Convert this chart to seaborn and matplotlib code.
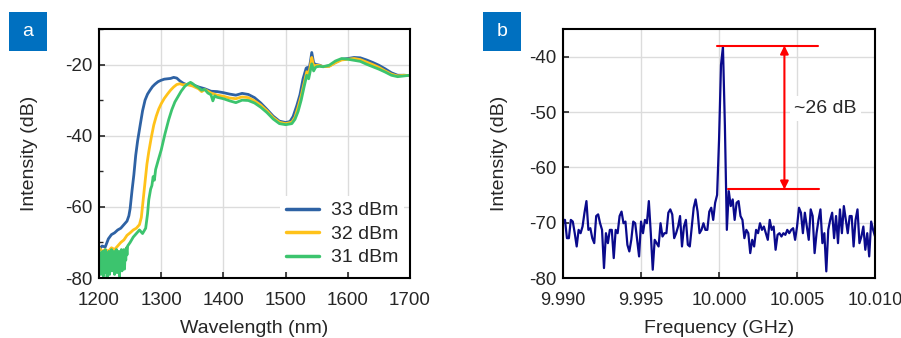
import numpy as np
import pandas as pd
import matplotlib
matplotlib.use("Agg")
import matplotlib.pyplot as plt
from matplotlib.patches import Rectangle
from matplotlib.ticker import MultipleLocator, FormatStrFormatter
import seaborn as sns

# ---- panel a: spectra at three pump powers ----
wl_33 = [1200, 1205, 1210, 1215, 1220, 1225, 1230, 1235, 1240, 1245, 1248, 1250, 1253, 1256, 1259,
         1262, 1266, 1270, 1274, 1278, 1282, 1286, 1290, 1295, 1300, 1305, 1310, 1315, 1320, 1325,
         1330, 1335, 1340, 1350, 1360, 1370, 1380, 1390, 1400, 1410, 1420, 1430, 1440, 1450, 1460,
         1470, 1480, 1490, 1500, 1507, 1512, 1518, 1523, 1528, 1533, 1535, 1537, 1540, 1542, 1545,
         1548, 1550, 1555, 1560, 1570, 1580, 1590, 1600, 1610, 1620, 1630, 1640, 1650, 1660, 1670,
         1680, 1690, 1700]
int_33 = [-72.0, -71.0, -71.3, -69.0, -67.8, -67.3, -66.5, -66.0, -65.0, -64.0, -62.5, -60.5, -55.5,
          -51.0, -45.5, -41.5, -37.2, -33.0, -30.0, -28.3, -27.2, -26.2, -25.5, -24.8, -24.4, -24.1,
          -24.0, -23.9, -23.6, -23.8, -24.6, -25.2, -25.6, -25.6, -26.3, -26.8, -27.5, -27.6, -27.9,
          -28.3, -28.6, -28.1, -28.4, -29.3, -30.8, -32.6, -34.5, -35.9, -36.3, -36.0, -34.6, -31.5,
          -28.5, -24.0, -21.0, -20.8, -22.0, -19.0, -16.6, -19.5, -20.0, -20.0, -20.2, -20.6, -20.4,
          -19.4, -18.5, -18.3, -18.0, -18.1, -18.7, -19.4, -20.2, -21.2, -22.3, -23.0, -23.0, -23.1]

wl_32 = [1200, 1205, 1210, 1215, 1220, 1225, 1230, 1235, 1240, 1245, 1250, 1255, 1260, 1265, 1268,
         1271, 1274, 1277, 1280, 1284, 1288, 1292, 1296, 1300, 1305, 1310, 1315, 1320, 1325, 1330,
         1335, 1340, 1345, 1350, 1355, 1360, 1365, 1370, 1380, 1390, 1400, 1410, 1420, 1430, 1440,
         1450, 1460, 1470, 1480, 1490, 1500, 1510, 1515, 1520, 1525, 1530, 1534, 1537, 1540, 1542,
         1545, 1548, 1550, 1555, 1560, 1570, 1580, 1590, 1600, 1610, 1620, 1630, 1640, 1650, 1660,
         1670, 1680, 1690, 1700]
int_32 = [-71.5, -72.5, -72.0, -72.5, -71.5, -72.0, -71.0, -70.0, -69.3, -68.0, -67.3, -66.5, -66.0,
          -65.0, -63.0, -58.0, -53.0, -48.0, -44.5, -40.5, -37.0, -34.5, -32.5, -31.0, -29.5, -28.3,
          -27.2, -26.3, -25.6, -25.4, -25.7, -25.6, -25.8, -26.0, -26.4, -26.8, -27.6, -27.0, -28.0,
          -28.6, -28.9, -29.4, -29.6, -29.1, -29.3, -30.2, -31.4, -33.0, -34.9, -36.2, -36.6, -36.2,
          -34.8, -32.0, -28.8, -25.0, -22.0, -23.0, -20.0, -18.0, -20.5, -20.3, -20.2, -20.3, -20.6,
          -20.5, -19.5, -18.7, -18.5, -18.3, -18.6, -19.3, -20.0, -20.8, -21.8, -22.7, -23.2, -23.0,
          -23.1]

wl_31 = [1200, 1201, 1202, 1203, 1204, 1205, 1206, 1207, 1208, 1209, 1210, 1211, 1212, 1213, 1214,
         1215, 1216, 1217, 1218, 1219, 1220, 1221, 1222, 1223, 1224, 1225, 1226, 1227, 1228, 1229,
         1230, 1231, 1232, 1233, 1234, 1235, 1236, 1237, 1238, 1239, 1240, 1241, 1242, 1243, 1244,
         1245, 1246, 1250, 1255, 1260, 1265, 1270, 1275, 1278, 1280, 1283, 1285, 1287, 1289, 1291,
         1295, 1300, 1306, 1312, 1317, 1322, 1327, 1332, 1338, 1343, 1347, 1350, 1355, 1360, 1365,
         1370, 1375, 1380, 1383, 1386, 1390, 1400, 1410, 1420, 1430, 1440, 1450, 1460, 1470, 1480,
         1490, 1500, 1510, 1515, 1520, 1525, 1530, 1534, 1537, 1540, 1542, 1545, 1548, 1550, 1555,
         1560, 1570, 1580, 1590, 1600, 1610, 1620, 1630, 1640, 1650, 1660, 1670, 1680, 1690, 1700]
int_31 = [-72.0, -78.0, -73.0, -79.0, -74.0, -76.0, -72.5, -79.5, -73.0, -77.0, -72.0, -78.5, -74.0,
          -80.0, -73.0, -76.5, -72.5, -79.0, -74.5, -77.5, -72.0, -78.0, -73.5, -76.0, -72.5, -79.0,
          -73.0, -77.5, -72.0, -78.5, -73.0, -76.5, -72.5, -79.5, -73.5, -77.0, -72.0, -78.0, -73.0,
          -76.0, -72.0, -77.5, -72.5, -75.0, -71.5, -73.5, -71.0, -70.0, -68.5, -67.5, -66.5, -67.5,
          -66.0, -62.0, -58.0, -55.0, -54.0, -51.5, -52.5, -49.5, -47.0, -44.0, -39.5, -35.5, -32.7,
          -30.5, -29.0, -27.5, -26.1, -25.4, -25.0, -25.3, -26.0, -26.5, -27.2, -27.0, -28.0, -28.5,
          -30.2, -28.8, -29.2, -29.6, -30.2, -30.7, -30.0, -30.1, -30.8, -32.0, -33.5, -35.3, -36.6,
          -36.9, -36.6, -35.4, -33.2, -30.0, -26.0, -23.0, -24.0, -21.5, -19.8, -21.8, -20.8, -20.6,
          -20.5, -20.6, -20.2, -19.0, -18.3, -18.5, -18.8, -19.1, -19.9, -20.6, -21.3, -22.1, -23.0,
          -23.4, -23.2, -23.0]

power_labels = ["33 dBm", "32 dBm", "31 dBm"]
power_colors = ["#2E62A4", "#FFC21A", "#3CC46E"]

# ---- panel b: RF spectrum around 10 GHz ----
f_start, f_stop = 9.990, 10.010
rf_db = [-69.5, -69.5, -72.8, -72.8, -69.5, -69.8, -71.9, -74.3, -71.3, -71.9,
         -70.7, -68.2, -66.1, -71.3, -71.0, -72.8, -73.7, -68.8, -68.5, -70.1,
         -71.3, -78.2, -71.9, -73.7, -71.3, -71.3, -76.4, -71.3, -71.9, -68.8,
         -68.0, -70.1, -69.8, -74.0, -75.2, -73.1, -69.8, -70.1, -73.1, -76.1,
         -69.8, -71.9, -69.5, -70.1, -66.1, -71.9, -78.5, -73.1, -73.7, -74.3,
         -70.1, -72.5, -71.9, -71.9, -68.2, -67.6, -68.5, -72.8, -71.9, -70.7,
         -68.8, -74.3, -70.7, -69.5, -74.0, -74.3, -70.7, -67.3, -65.8, -68.0,
         -71.9, -71.3, -70.1, -71.3, -71.3, -68.0, -67.3, -69.5, -66.4, -65.0,
         -55.0, -41.5, -38.2, -52.5, -71.3, -64.3, -67.0, -65.8, -69.5, -66.4,
         -66.1, -68.8, -69.5, -72.8, -71.3, -71.9, -75.5, -73.1, -74.3, -71.3,
         -71.9, -70.1, -71.3, -70.7, -71.9, -73.1, -69.5, -71.3, -70.7, -74.9,
         -72.2, -71.9, -72.5, -71.9, -72.2, -71.3, -71.9, -71.3, -71.0, -73.1,
         -70.7, -67.3, -68.2, -71.9, -68.2, -70.7, -73.1, -67.6, -68.8, -75.5,
         -71.9, -69.5, -67.6, -73.7, -71.9, -78.8, -71.3, -69.5, -68.2, -72.8,
         -68.8, -73.7, -67.6, -71.9, -67.0, -69.5, -71.9, -68.8, -68.8, -74.3,
         -69.5, -67.6, -73.7, -72.5, -70.7, -74.9, -71.9, -76.1, -69.8, -71.3,
         -72.5]
rf_freq = np.linspace(f_start, f_stop, len(rf_db))

peak_db = -38.0
floor_db = -64.0
top_line = (9.99985, 10.00637)
floor_line = (10.00056, 10.00643)
arrow_f = 10.00419
contrast_text = "~26 dB"

sns.set_style("whitegrid", {
    "axes.edgecolor": "black",
    "grid.color": "#dcdcdc",
    "xtick.direction": "in",
    "ytick.direction": "in",
    "xtick.bottom": True,
    "ytick.left": True,
})
plt.rcParams["font.family"] = ["Liberation Sans", "DejaVu Sans"]
plt.rcParams["axes.unicode_minus"] = False
plt.rcParams["axes.linewidth"] = 1.5
plt.rcParams["xtick.major.size"] = 4
plt.rcParams["ytick.major.size"] = 4
plt.rcParams["ytick.minor.size"] = 3
plt.rcParams["xtick.major.width"] = 1.2
plt.rcParams["ytick.major.width"] = 1.2
plt.rcParams["ytick.minor.width"] = 1.0
plt.rcParams["xtick.major.pad"] = 10
plt.rcParams["ytick.major.pad"] = 5
plt.rcParams["grid.linewidth"] = 1.0

fig = plt.figure(figsize=(9.01, 3.38), dpi=100)
ax_a = fig.add_axes([0.1099, 0.1775, 0.3452, 0.7367])
ax_b = fig.add_axes([0.6249, 0.1775, 0.3463, 0.7367])

rows = []
for lab, wl, val in zip(power_labels, [wl_33, wl_32, wl_31], [int_33, int_32, int_31]):
    for w, v in zip(wl, val):
        rows.append({"wavelength": w, "intensity": v, "power": lab})
df_a = pd.DataFrame(rows)

sns.lineplot(data=df_a, x="wavelength", y="intensity", hue="power", hue_order=power_labels,
             palette=power_colors, estimator=None, sort=False, linewidth=2.0, ax=ax_a)
ax_a.set_xlim(1200, 1700)
ax_a.set_ylim(-80, -10)
ax_a.xaxis.set_major_locator(MultipleLocator(100))
ax_a.yaxis.set_major_locator(MultipleLocator(20))
ax_a.yaxis.set_minor_locator(MultipleLocator(10))
ax_a.set_xlabel("Wavelength (nm)", fontsize=14, labelpad=8)
ax_a.set_ylabel("Intensity (dB)", fontsize=14, labelpad=19)
ax_a.tick_params(labelsize=13.5)
ax_a.tick_params(axis="y", which="minor", left=True)
leg = ax_a.legend(loc="lower right", fontsize=14, frameon=True, facecolor="white",
                  edgecolor="none", framealpha=1, handlelength=1.7, handletextpad=0.6,
                  labelspacing=0.3, borderaxespad=0.3, borderpad=0.3)
for line in leg.get_lines():
    line.set_linewidth(2.5)

df_b = pd.DataFrame({"frequency": rf_freq, "intensity": rf_db})
sns.lineplot(data=df_b, x="frequency", y="intensity", color="#0A0A8C", linewidth=1.6,
             estimator=None, ax=ax_b)
ax_b.set_xlim(f_start, f_stop)
ax_b.set_ylim(-80, -35)
ax_b.xaxis.set_major_locator(MultipleLocator(0.005))
ax_b.xaxis.set_major_formatter(FormatStrFormatter("%.3f"))
ax_b.yaxis.set_major_locator(MultipleLocator(10))
ax_b.set_xlabel("Frequency (GHz)", fontsize=14, labelpad=8)
ax_b.set_ylabel("Intensity (dB)", fontsize=14, labelpad=15)
ax_b.tick_params(labelsize=13.5)
ax_b.tick_params(axis="x", labelsize=13)

ax_b.plot(top_line, [peak_db, peak_db], color="red", lw=1.5)
ax_b.plot(floor_line, [floor_db, floor_db], color="red", lw=1.5)
ax_b.annotate("", xy=(arrow_f, peak_db), xytext=(arrow_f, floor_db),
              arrowprops=dict(arrowstyle="<|-|>", color="red", lw=1.5,
                              mutation_scale=12, shrinkA=0, shrinkB=0))
ax_b.text(10.00481, -49.3, contrast_text, fontsize=14, va="center", ha="left",
          bbox=dict(facecolor="white", edgecolor="none", pad=3))

# panel letters
for letter, x0 in [("a", 9), ("b", 483)]:
    fig.patches.append(Rectangle((x0 / 901, 1 - 51 / 338), 38 / 901, 39 / 338,
                                 transform=fig.transFigure, facecolor="#0070C0",
                                 edgecolor="none", zorder=5))
    fig.text((x0 + 19) / 901, 1 - 31.5 / 338, letter, color="white", fontsize=14,
             ha="center", va="center", zorder=6)

fig.savefig("out.png", dpi=100)
